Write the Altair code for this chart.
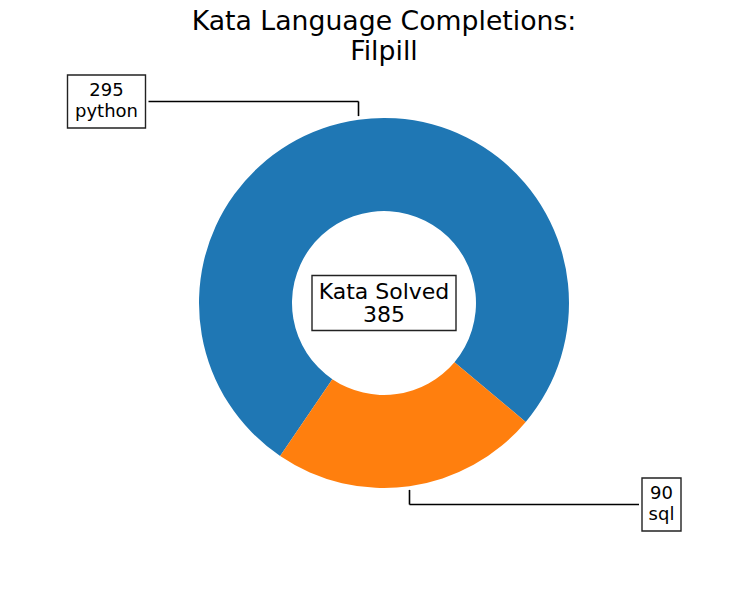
import math
import pandas as pd
import altair as alt

# ---------------- data ----------------
languages = ["python", "sql"]
counts = [295, 90]
colors = ["#1f77b4", "#ff7f0e"]
title_lines = ["Kata Language Completions:", "Filpill"]
center_lines = ["Kata Solved", str(sum(counts))]

# ---------------- layout ----------------
W, H = 734, 584            # view size (px)
R_OUT, R_IN = 185, 92      # donut radii (px)
CX, CY = 376, 295          # donut centre in view px
U = R_OUT                  # px per data unit (radius = 1)
XMIN, XMAX = -CX / U, (W - CX) / U
YMIN, YMAX = -(H - CY) / U, CY / U
START_DEG = 130            # vega angle where the first (sql) wedge begins
FONT = "DejaVu Sans"

xs = alt.Scale(domain=[XMIN, XMAX], nice=False, zero=False)
ys = alt.Scale(domain=[YMIN, YMAX], nice=False, zero=False)

total = sum(counts)
pie_df = pd.DataFrame({"language": languages, "count": counts, "cx": 0.0, "cy": 0.0})

# annotation geometry derived from wedge mid-angles
stack_order = sorted(languages, reverse=True)
box_half_w = {"python": 39, "sql": 19.5}
BOX_HALF_H = 26.5
rules, boxes, texts = [], [], []
cum = 0
for lang in stack_order:
    c = counts[languages.index(lang)]
    mid = START_DEG + (cum + c / 2) / total * 360
    cum += c
    a = math.radians(90 - mid)
    ca, sa = math.cos(a), math.sin(a)
    sgn = 1 if ca >= 0 else -1
    lx, ly = 1.5 * sgn, 1.1 * sa
    hw = box_half_w[lang] / U
    hh = BOX_HALF_H / U
    boxes.append({"x": lx - hw, "x2": lx + hw, "y": ly - hh, "y2": ly + hh})
    rules.append({"x": lx - sgn * (hw + 3 / U), "x2": ca, "y": ly, "y2": ly})
    rules.append({"x": ca, "x2": ca, "y": ly, "y2": 1.02 * sa})
    texts.append({"x": lx, "y": ly + 5.5 / U, "t": str(c), "size": 18})
    texts.append({"x": lx, "y": ly - 15.2 / U, "t": lang, "size": 18})

# centre label
boxes.append({"x": -72 / U, "x2": 72 / U, "y": -27.5 / U, "y2": 27.5 / U})
texts.append({"x": 0.0, "y": 4.5 / U, "t": center_lines[0], "size": 22})
texts.append({"x": 0.0, "y": -18.5 / U, "t": center_lines[1], "size": 22})

# title
title_df = pd.DataFrame({"x": [0.0, 0.0],
                         "y": [YMAX - 22 / U, YMAX - 52 / U],
                         "t": title_lines})

rules_df = pd.DataFrame(rules)
boxes_df = pd.DataFrame(boxes)
texts_df = pd.DataFrame(texts)

X = lambda f: alt.X(f, type="quantitative", scale=xs, axis=None)
Y = lambda f: alt.Y(f, type="quantitative", scale=ys, axis=None)

arc = alt.Chart(pie_df).mark_arc(innerRadius=R_IN, outerRadius=R_OUT).encode(
    x=X("cx"), y=Y("cy"),
    theta=alt.Theta("count:Q", stack=True,
                    scale=alt.Scale(range=[math.radians(START_DEG), math.radians(START_DEG + 360)])),
    color=alt.Color("language:N", scale=alt.Scale(domain=languages, range=colors), legend=None),
    order=alt.Order("language:N", sort="descending"),
)

lines = alt.Chart(rules_df).mark_rule(color="black", strokeWidth=1.6).encode(
    x=X("x"), x2="x2", y=Y("y"), y2="y2")

box = alt.Chart(boxes_df).mark_rect(fill="white", stroke="#222222", strokeWidth=1.4).encode(
    x=X("x"), x2="x2", y=Y("y"), y2="y2")

label = alt.Chart(texts_df).mark_text(font=FONT, color="black", align="center",
                                      baseline="alphabetic").encode(
    x=X("x"), y=Y("y"), text="t:N",
    size=alt.Size("size:Q", scale=None, legend=None))

title = alt.Chart(title_df).mark_text(font=FONT, fontSize=26.7, color="black",
                                      align="center", baseline="alphabetic").encode(
    x=X("x"), y=Y("y"), text="t:N")

chart = alt.layer(arc, lines, box, label, title).properties(
    width=W, height=H, padding=0, autosize=alt.AutoSizeParams(type="none"),
    background="white",
).configure_view(stroke=None)

chart.save("out.html", embed_options={"renderer": "svg", "actions": False})
